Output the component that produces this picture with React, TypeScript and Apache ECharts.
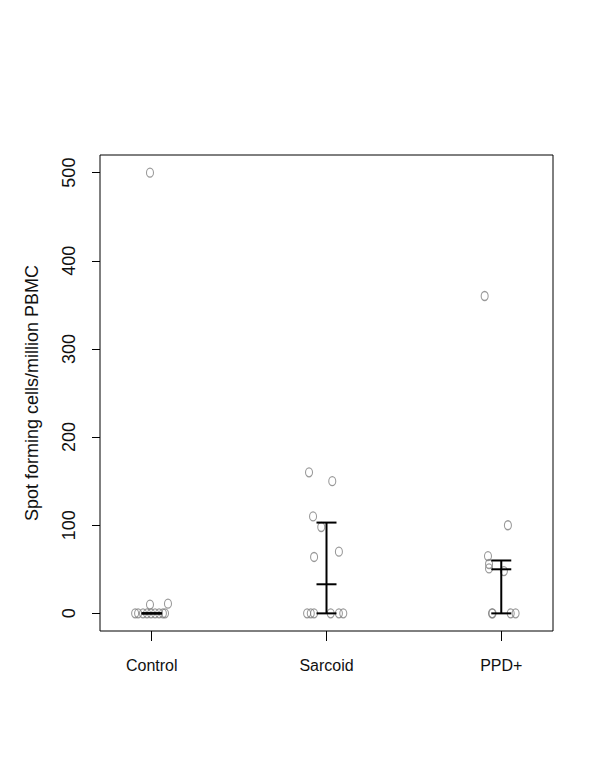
import React, { useEffect, useRef } from "react";
import * as echarts from "echarts";

const categories = ["Control", "Sarcoid", "PPD+"];
const categoryPositions = [1, 2, 3];
const yTicks = [0, 100, 200, 300, 400, 500];

// jittered x positions and values of each group
const controlX = [0.99, 0.99, 1.093, 0.905, 0.922, 0.95, 0.973, 0.996, 1.019, 1.042, 1.064, 1.076];
const controlY = [500, 10, 11, 0, 0, 0, 0, 0, 0, 0, 0, 0];
const sarcoidX = [1.9, 2.033, 1.923, 1.97, 1.929, 2.071, 1.889, 1.91, 1.929, 2.024, 2.071, 2.096];
const sarcoidY = [160, 150, 110, 98, 64, 70, 0, 0, 0, 0, 0, 0];
const ppdX = [2.905, 3.038, 2.924, 2.93, 2.93, 3.015, 2.947, 2.95, 3.054, 3.082];
const ppdY = [360, 100, 65, 56, 51, 48, 0, 0, 0, 0];

// summaries (lower quartile, median, upper quartile)
const lowerQ = [0, 0, 0];
const medians = [0, 33, 50];
const upperQ = [0, 103, 60];

const FONT = "'Liberation Sans', Arial, sans-serif";

export default function App() {
  const ref = useRef<HTMLDivElement>(null);
  useEffect(() => {
    if (!ref.current) return;
    const chart = echarts.init(ref.current, undefined, { renderer: "svg" });
    const pts = (xs: number[], ys: number[]) => xs.map((x, i) => [x, ys[i]]);
    const pointData = [
      ...pts(controlX, controlY),
      ...pts(sarcoidX, sarcoidY),
      ...pts(ppdX, ppdY),
    ];
    const barData = categoryPositions.map((x, i) => [x, lowerQ[i], medians[i], upperQ[i]]);
    chart.setOption({
      animation: false,
      backgroundColor: "#ffffff",
      grid: {
        left: 100,
        right: 47,
        top: 155,
        bottom: 145,
        show: true,
        borderColor: "#000",
        borderWidth: 1,
        backgroundColor: "transparent",
      },
      xAxis: {
        type: "value",
        min: 0.704,
        max: 3.296,
        axisLine: { show: false, onZero: false },
        splitLine: { show: false },
        axisTick: {
          show: true,
          inside: false,
          length: 10,
          customValues: categoryPositions,
          lineStyle: { color: "#000", width: 1 },
        },
        axisLabel: {
          customValues: categoryPositions,
          formatter: (v: number) => categories[Math.round(v) - 1] ?? "",
          margin: 26,
          fontSize: 16,
          fontFamily: FONT,
          color: "#111",
        },
      },
      yAxis: {
        type: "value",
        min: -20,
        max: 520,
        axisLine: { show: false, onZero: false },
        splitLine: { show: false },
        name: "Spot forming cells/million PBMC",
        nameLocation: "middle",
        nameGap: 59,
        nameTextStyle: { fontSize: 18, fontFamily: FONT, color: "#111" },
        axisTick: {
          show: true,
          inside: false,
          length: 8,
          customValues: yTicks,
          lineStyle: { color: "#000", width: 1 },
        },
        axisLabel: {
          customValues: yTicks,
          rotate: 90,
          margin: 22,
          fontSize: 18,
          fontFamily: FONT,
          color: "#111",
        },
      },
      series: [
        {
          type: "scatter",
          data: pointData,
          symbol: "path://M5,0 A5,5 0 1,1 5,10 A5,5 0 1,1 5,0 Z",
          symbolSize: [7, 9],
          itemStyle: { color: "rgba(0,0,0,0)", borderColor: "#808080", borderWidth: 1.2 },
          z: 2,
        },
        {
          type: "custom",
          data: barData,
          encode: { x: 0, y: [1, 2, 3] },
          z: 3,
          renderItem: (params: any, api: any) => {
            const x = api.value(0);
            const lo = api.coord([x, api.value(1)]);
            const md = api.coord([x, api.value(2)]);
            const hi = api.coord([x, api.value(3)]);
            const w = 10;
            const st = { stroke: "#000", lineWidth: 2 };
            const hline = (p: number[]) => ({
              type: "line",
              shape: { x1: p[0] - w, y1: p[1], x2: p[0] + w, y2: p[1] },
              style: st,
            });
            return {
              type: "group",
              children: [
                { type: "line", shape: { x1: lo[0], y1: lo[1], x2: hi[0], y2: hi[1] }, style: st },
                hline(lo),
                hline(md),
                hline(hi),
              ],
            };
          },
        },
      ],
    });
    return () => chart.dispose();
  }, []);
  return (
    <div
      ref={ref}
      style={{ position: "absolute", left: 0, top: 0, width: 600, height: 776, background: "#fff" }}
    />
  );
}
